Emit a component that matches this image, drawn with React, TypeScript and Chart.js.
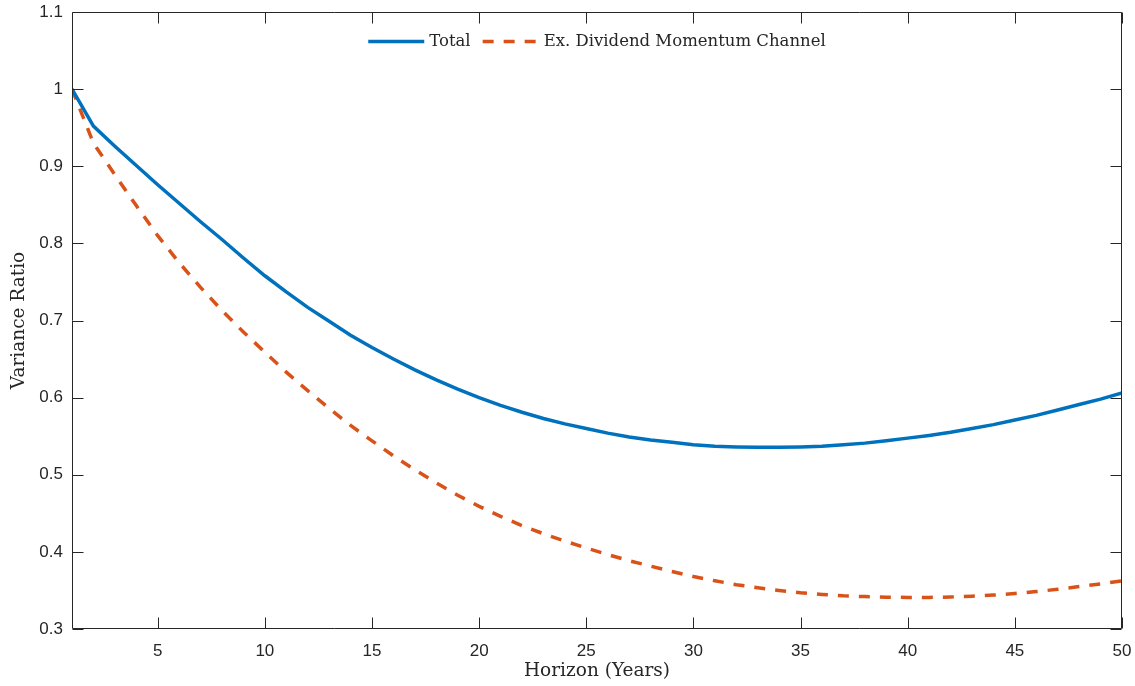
import React, { useEffect, useRef } from 'react';
import { Chart, registerables } from 'chart.js';

Chart.register(...registerables);

const HORIZON = [1, 2, 3, 4, 5, 6, 7, 8, 9, 10, 11, 12, 13, 14, 15, 16, 17, 18, 19, 20, 21, 22, 23, 24, 25, 26, 27, 28, 29, 30, 31, 32, 33, 34, 35, 36, 37, 38, 39, 40, 41, 42, 43, 44, 45, 46, 47, 48, 49, 50];

const TOTAL = [1.0, 0.952, 0.926, 0.901, 0.876, 0.852, 0.828, 0.805, 0.781, 0.758,
  0.737, 0.717, 0.699, 0.681, 0.665, 0.65, 0.636, 0.623, 0.611, 0.6,
  0.59, 0.581, 0.573, 0.566, 0.56, 0.554, 0.549, 0.545, 0.542, 0.539,
  0.537, 0.536, 0.5355, 0.5355, 0.536, 0.537, 0.539, 0.541, 0.544, 0.5475,
  0.551, 0.555, 0.56, 0.565, 0.571, 0.577, 0.584, 0.591, 0.598, 0.606];

const EX_DIVIDEND = [1.0, 0.93, 0.889, 0.849, 0.81, 0.775, 0.743, 0.713, 0.685, 0.659,
  0.633, 0.609, 0.586, 0.564, 0.544, 0.5245, 0.5065, 0.4895, 0.4735, 0.459,
  0.446, 0.434, 0.4235, 0.414, 0.405, 0.3965, 0.3885, 0.3815, 0.3745, 0.368,
  0.3625, 0.3575, 0.3535, 0.35, 0.347, 0.3448, 0.343, 0.342, 0.3413, 0.341,
  0.341, 0.3415, 0.3425, 0.344, 0.346, 0.3485, 0.3515, 0.355, 0.3585, 0.3625];

const SERIES_LABELS = ['Total', 'Ex. Dividend Momentum Channel'];
const X_TICKS = [5, 10, 15, 20, 25, 30, 35, 40, 45, 50];
const Y_TICKS = [0.3, 0.4, 0.5, 0.6, 0.7, 0.8, 0.9, 1.0, 1.1];
const X_TITLE = 'Horizon (Years)';
const Y_TITLE = 'Variance Ratio';

const AXIS_COLOR = '#262626';
const BLUE = '#0072BD';
const ORANGE = '#D95319';
const SERIF = '"DejaVu Serif", serif';
const SANS = '"Liberation Sans", Arial, sans-serif';
const TICK_LEN = 11;

const boxPlugin = {
  id: 'matlabBox',
  afterDatasetsDraw(chart: any) {
    const { ctx, chartArea: a, scales } = chart;
    const L = Math.round(a.left) + 0.5;
    const R = Math.round(a.right) - 0.5;
    const T = Math.round(a.top) + 0.5;
    const B = Math.round(a.bottom) - 0.5;
    ctx.save();
    ctx.strokeStyle = AXIS_COLOR;
    ctx.lineWidth = 1;
    ctx.setLineDash([]);
    ctx.beginPath();
    ctx.rect(L, T, R - L, B - T);
    scales.x.ticks.forEach((t: any) => {
      const px = Math.round(scales.x.getPixelForValue(t.value)) + 0.5;
      ctx.moveTo(px, B);
      ctx.lineTo(px, B - TICK_LEN);
      ctx.moveTo(px, T);
      ctx.lineTo(px, T + TICK_LEN);
    });
    scales.y.ticks.forEach((t: any) => {
      const py = Math.round(scales.y.getPixelForValue(t.value)) + 0.5;
      ctx.moveTo(L, py);
      ctx.lineTo(L + TICK_LEN, py);
      ctx.moveTo(R, py);
      ctx.lineTo(R - TICK_LEN, py);
    });
    ctx.stroke();
    ctx.restore();
  },
};

const SAMPLE_W = 56;
const SAMPLE_GAP = 5;
const ITEM_GAP = 12;

const legendPlugin = {
  id: 'insideLegend',
  afterDraw(chart: any) {
    const { ctx, chartArea: a } = chart;
    const ds = chart.data.datasets;
    ctx.save();
    ctx.font = `16.5px ${SERIF}`;
    const widths = ds.map((d: any) => SAMPLE_W + SAMPLE_GAP + ctx.measureText(d.label).width);
    const total = widths.reduce((s: number, w: number) => s + w, 0) + ITEM_GAP * (ds.length - 1);
    let x = (a.left + a.right) / 2 - total / 2;
    const y = a.top + 29.5;
    ds.forEach((d: any, i: number) => {
      ctx.strokeStyle = d.borderColor;
      ctx.lineWidth = d.borderWidth;
      ctx.setLineDash(d.borderDash || []);
      ctx.lineCap = 'butt';
      ctx.beginPath();
      ctx.moveTo(x, y);
      ctx.lineTo(x + SAMPLE_W, y);
      ctx.stroke();
      ctx.setLineDash([]);
      ctx.fillStyle = AXIS_COLOR;
      ctx.textBaseline = 'middle';
      ctx.textAlign = 'left';
      ctx.fillText(d.label, x + SAMPLE_W + SAMPLE_GAP, y);
      x += widths[i] + ITEM_GAP;
    });
    ctx.restore();
  },
};

export default function App() {
  const canvasRef = useRef<HTMLCanvasElement | null>(null);

  useEffect(() => {
    document.body.style.margin = '0';
    const canvas = canvasRef.current;
    if (!canvas) return;
    const chart = new Chart(canvas, {
      type: 'line',
      data: {
        datasets: [
          {
            label: SERIES_LABELS[0],
            data: HORIZON.map((h, i) => ({ x: h, y: TOTAL[i] })),
            borderColor: BLUE,
            backgroundColor: BLUE,
            borderWidth: 3.5,
            pointRadius: 0,
            tension: 0,
            fill: false,
          },
          {
            label: SERIES_LABELS[1],
            data: HORIZON.map((h, i) => ({ x: h, y: EX_DIVIDEND[i] })),
            borderColor: ORANGE,
            backgroundColor: ORANGE,
            borderWidth: 3.5,
            borderDash: [11, 10],
            pointRadius: 0,
            tension: 0,
            fill: false,
          },
        ],
      },
      options: {
        responsive: false,
        animation: false,
        events: [],
        layout: { padding: { left: 0, right: 13, top: 12, bottom: 0 } },
        plugins: {
          tooltip: { enabled: false },
          legend: { display: false },
        },
        scales: {
          x: {
            type: 'linear',
            min: 1,
            max: 50,
            afterBuildTicks: (scale: any) => {
              scale.ticks = X_TICKS.map((v) => ({ value: v }));
            },
            afterFit: (scale: any) => {
              scale.height = 57;
              scale.paddingLeft = 0;
              scale.paddingRight = 0;
            },
            grid: { display: false, drawTicks: false },
            border: { display: false },
            ticks: {
              color: AXIS_COLOR,
              font: { family: SANS, size: 17 },
              padding: 12,
              maxRotation: 0,
              callback: (v: any) => String(v),
            },
            title: {
              display: true,
              text: X_TITLE,
              color: AXIS_COLOR,
              font: { family: SERIF, size: 18.5 },
              padding: { top: 0, bottom: 4 },
            },
          },
          y: {
            type: 'linear',
            min: 0.3,
            max: 1.1,
            afterBuildTicks: (scale: any) => {
              scale.ticks = Y_TICKS.map((v) => ({ value: v }));
            },
            afterFit: (scale: any) => {
              scale.width = 72;
              scale.paddingTop = 0;
              scale.paddingBottom = 0;
            },
            grid: { display: false, drawTicks: false },
            border: { display: false },
            ticks: {
              color: AXIS_COLOR,
              font: { family: SANS, size: 17 },
              padding: 9,
              callback: (v: any) => String(Number(Number(v).toFixed(1))),
            },
            title: {
              display: true,
              text: Y_TITLE,
              color: AXIS_COLOR,
              font: { family: SERIF, size: 18.5 },
              padding: { top: 8, bottom: 0 },
            },
          },
        },
      },
      plugins: [boxPlugin, legendPlugin],
    } as any);
    return () => {
      chart.destroy();
    };
  }, []);

  return (
    <div style={{ width: 1135, height: 686, background: '#fff' }}>
      <canvas ref={canvasRef} width={1135} height={686} />
    </div>
  );
}
